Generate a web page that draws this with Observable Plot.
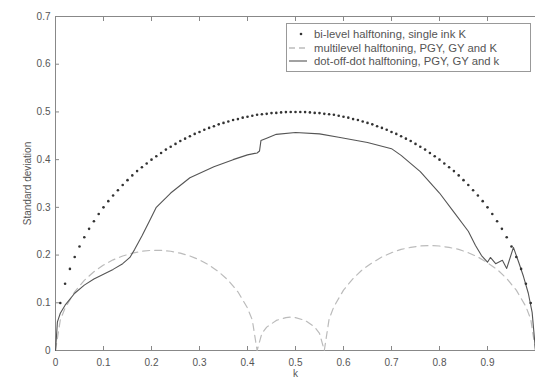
<!DOCTYPE html>
<html><head><meta charset="utf-8">
<script src="https://cdn.jsdelivr.net/npm/d3@7"></script>
<script src="https://cdn.jsdelivr.net/npm/@observablehq/plot@0.6"></script>
<style>
body{margin:0;background:#fff;}
#wrap{position:relative;width:535px;height:380px;overflow:hidden;}
.legend{position:absolute;left:286px;top:23px;width:243px;height:47px;border:1px solid #999;background:#fff;font:11.3px "Liberation Sans",Arial,sans-serif;color:#555;white-space:nowrap;}
.row{position:absolute;left:0;height:12px;display:flex;align-items:center;}
.row svg{margin-left:2px;margin-right:7px;}
</style></head><body><div id="wrap"></div>
<script>
// ---- data ----
const xTicks = [0, 0.1, 0.2, 0.3, 0.4, 0.5, 0.6, 0.7, 0.8, 0.9];
const yTicks = [0, 0.1, 0.2, 0.3, 0.4, 0.5, 0.6, 0.7];
const seriesNames = ["bi-level halftoning, single ink K", "multilevel halftoning, PGY, GY and K", "dot-off-dot halftoning, PGY, GY and k"];

const biK = [0.01,0.02,0.03,0.04,0.05,0.06,0.07,0.08,0.09,0.10,0.11,0.12,0.13,0.14,0.15,0.16,0.17,0.18,0.19,0.20,0.21,0.22,0.23,0.24,0.25,0.26,0.27,0.28,0.29,0.30,0.31,0.32,0.33,0.34,0.35,0.36,0.37,0.38,0.39,0.40,0.41,0.42,0.43,0.44,0.45,0.46,0.47,0.48,0.49,0.50,0.51,0.52,0.53,0.54,0.55,0.56,0.57,0.58,0.59,0.60,0.61,0.62,0.63,0.64,0.65,0.66,0.67,0.68,0.69,0.70,0.71,0.72,0.73,0.74,0.75,0.76,0.77,0.78,0.79,0.80,0.81,0.82,0.83,0.84,0.85,0.86,0.87,0.88,0.89,0.90,0.91,0.92,0.93,0.94,0.95,0.96,0.97,0.98,0.99];
const biSD = [0.0995,0.140,0.171,0.196,0.218,0.2375,0.255,0.271,0.286,0.300,0.313,0.325,0.336,0.347,0.357,0.367,0.376,0.384,0.392,0.400,0.407,0.414,0.421,0.427,0.433,0.439,0.444,0.449,0.454,0.458,0.4625,0.4665,0.470,0.474,0.477,0.480,0.483,0.485,0.488,0.490,0.492,0.494,0.495,0.496,0.4975,0.498,0.499,0.4996,0.4999,0.500,0.4999,0.4996,0.499,0.498,0.4975,0.496,0.495,0.494,0.492,0.490,0.488,0.485,0.483,0.480,0.477,0.474,0.470,0.4665,0.4625,0.458,0.454,0.449,0.444,0.439,0.433,0.427,0.421,0.414,0.407,0.400,0.392,0.384,0.376,0.367,0.357,0.347,0.336,0.325,0.313,0.300,0.286,0.271,0.255,0.2375,0.218,0.196,0.171,0.140,0.0995];

const mlK = [0,0.01,0.02,0.04,0.06,0.08,0.10,0.12,0.14,0.16,0.18,0.20,0.22,0.24,0.26,0.28,0.30,0.32,0.34,0.36,0.38,0.40,0.41,0.42,0.43,0.44,0.46,0.48,0.49,0.50,0.52,0.54,0.55,0.56,0.57,0.58,0.60,0.62,0.64,0.66,0.68,0.70,0.72,0.74,0.76,0.78,0.80,0.82,0.84,0.86,0.88,0.90,0.92,0.94,0.96,0.98,0.99,1.00];
const mlSD = [0,0.064,0.089,0.123,0.147,0.165,0.179,0.190,0.198,0.204,0.208,0.210,0.210,0.208,0.204,0.198,0.190,0.179,0.165,0.147,0.123,0.089,0.064,0,0.036,0.049,0.063,0.069,0.070,0.069,0.063,0.049,0.036,0,0.066,0.092,0.1265,0.151,0.170,0.184,0.196,0.205,0.212,0.216,0.219,0.220,0.219,0.216,0.212,0.205,0.196,0.184,0.170,0.151,0.1265,0.092,0.066,0];

const dodK = [0,0.004,0.01,0.02,0.04,0.06,0.08,0.10,0.12,0.14,0.155,0.165,0.18,0.195,0.21,0.24,0.28,0.33,0.37,0.40,0.42,0.425,0.428,0.44,0.46,0.50,0.55,0.59,0.65,0.70,0.72,0.76,0.80,0.83,0.86,0.875,0.8875,0.90,0.906,0.917,0.931,0.94,0.954,0.965,0.975,0.985,0.993,1];
const dodSD = [0,0.06,0.078,0.095,0.12,0.137,0.15,0.16,0.17,0.182,0.195,0.212,0.24,0.27,0.30,0.33,0.362,0.385,0.40,0.41,0.414,0.418,0.44,0.445,0.453,0.457,0.454,0.447,0.436,0.423,0.409,0.375,0.33,0.29,0.25,0.22,0.199,0.185,0.195,0.182,0.189,0.172,0.216,0.185,0.155,0.12,0.08,0];

// ---- build ----
const bi = biK.map((k, i) => ({k, v: biSD[i]}));
const ml = mlK.map((k, i) => ({k, v: mlSD[i]}));
const dod = dodK.map((k, i) => ({k, v: dodSD[i]}));
const fmt = d => d === 0 ? "0" : d.toFixed(1);

const chart = Plot.plot({
  width: 535, height: 380,
  marginLeft: 55, marginRight: 0, marginTop: 16, marginBottom: 30,
  style: {fontFamily: "Liberation Sans, Arial, sans-serif", fontSize: "10px", color: "#555", background: "transparent"},
  x: {domain: [0, 1]},
  y: {domain: [0, 0.7]},
  marks: [
    Plot.frame({stroke: "#888"}),
    Plot.axisX(xTicks, {anchor: "bottom", tickSize: -4, tickFormat: () => "", label: null, stroke: "#888"}),
    Plot.axisX(xTicks, {anchor: "top", tickSize: -4, tickFormat: () => "", label: null, stroke: "#888"}),
    Plot.axisX(xTicks, {anchor: "bottom", tickSize: 0, tickPadding: 8, tickFormat: fmt, label: "k", labelAnchor: "center", labelOffset: 26, labelArrow: false, fill: "#555"}),
    Plot.axisY(yTicks, {anchor: "left", tickSize: -4, tickFormat: () => "", label: null, stroke: "#888"}),
    Plot.axisY(yTicks, {anchor: "left", tickSize: 0, tickPadding: 5, tickFormat: fmt, label: "Standard deviation", labelAnchor: "center", labelOffset: 32, labelArrow: false, fill: "#555"}),
    Plot.line(ml, {x: "k", y: "v", stroke: "#bbb", strokeWidth: 1.2, strokeDasharray: "7,5"}),
    Plot.line(dod, {x: "k", y: "v", stroke: "#555", strokeWidth: 1.1}),
    Plot.dot(bi, {x: "k", y: "v", r: 1.3, fill: "#333", stroke: null})
  ]
});
const wrap = document.getElementById("wrap");
wrap.appendChild(chart);

const legend = document.createElement("div");
legend.className = "legend";
const swatches = [
  '<svg width="18" height="10"><circle cx="12" cy="5" r="1.3" fill="#333"/></svg>',
  '<svg width="18" height="10"><line x1="0" y1="5" x2="18" y2="5" stroke="#999" stroke-width="1.2" stroke-dasharray="6,4"/></svg>',
  '<svg width="18" height="10"><line x1="0" y1="5" x2="18" y2="5" stroke="#555" stroke-width="1.1"/></svg>'
];
const rowTops = [4, 18, 31];
seriesNames.forEach((name, i) => {
  const r = document.createElement("div");
  r.className = "row";
  r.style.top = rowTops[i] + "px";
  r.innerHTML = swatches[i] + "<span>" + name + "</span>";
  legend.appendChild(r);
});
wrap.appendChild(legend);
</script>
</body></html>
